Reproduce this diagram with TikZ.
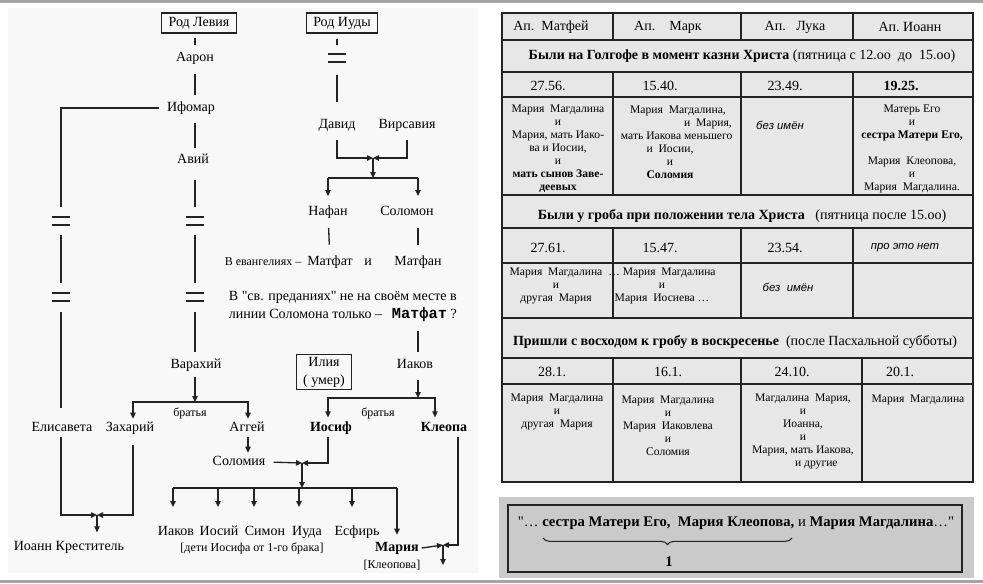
\documentclass[tikz,border=0pt]{standalone}
\usepackage{fontspec}
\setmainfont{Liberation Serif}[Ligatures=TeXOff]
\newfontfamily\sansfam{Liberation Sans}
\newfontfamily\monofam{Liberation Mono}
\usetikzlibrary{arrows.meta, positioning, decorations.pathreplacing, calc}
\definecolor{fonpanel}{RGB}{248,248,248}
\definecolor{fontab}{RGB}{231,231,231}
\definecolor{fonbox}{RGB}{202,202,202}
\definecolor{polosa}{RGB}{165,165,165}
\definecolor{linia}{RGB}{35,35,35}

\tikzset{
  persona/.style={inner sep=2pt, text height=7.3pt, text depth=2.2pt, font=\fontsize{10.5}{12}\selectfont},
  rod/.style={inner sep=2pt, font=\fontsize{10.5}{12}\selectfont, draw=linia, line width=0.8pt, inner xsep=5pt, minimum height=15pt},
  svyaz/.style={line width=1pt, linia},
  strelka/.style={svyaz, -{Triangle[length=4.5pt,width=4pt]}},
  tabl/.style={linia, line width=1.1pt},
  yach/.style={inner sep=0pt, align=center, font=\fontsize{8.7}{9.75}\selectfont},
  zag/.style={inner sep=0pt, font=\fontsize{10.5}{12}\selectfont},
  kursiv/.style={inner sep=0pt, font=\sansfam\itshape\fontsize{8.5}{10}\selectfont},
}
% знак разрыва линии рода
\newcommand{\razryv}[1]{\draw[svyaz] ([shift={(-9,-4)}]#1) -- ++(18,0) ([shift={(-9,4)}]#1) -- ++(18,0);}

\begin{document}
\begin{tikzpicture}[x=0.75pt, y=-0.75pt]
\useasboundingbox (0,0) rectangle (983,583);
\fill[polosa] (0,0) rectangle (983,3);
\fill[polosa] (0,580) rectangle (983,583);
\fill[fonpanel] (8,8) rectangle (478,573);

%% родословие
\node[rod] (levi) at (199,23) {Род Левия};
\node[rod] (iuda) at (342,23) {Род Иуды};
\node[persona] (aaron) at (195,58) {Аарон};
\node[persona] (ifomar) at (191,108) {Ифомар};
\node[persona] (aviy) at (193,160) {Авий};
\node[persona] (varahiy) at (196,365) {Варахий};
\node[persona] (david) at (337,125) {Давид};
\node[persona] (virsaviya) at (407,125) {Вирсавия};
\node[persona] (nafan) at (328,212) {Нафан};
\node[persona] (solomon) at (407,212) {Соломон};
\node[persona] (matfat) at (330,262) {Матфат};
\node[persona, font=\fontsize{9}{10}\selectfont, left=0pt of matfat] (evang) {В евангелиях –};
\node[persona] (soyuz) at (368,262) {и};
\node[persona] (matfan) at (418,262) {Матфан};
\node[persona, anchor=west] (prim1) at (226,297) {В "св. преданиях" не на своём месте в};
\node[persona, anchor=west] (prim2) at (226,315) {линии Соломона только –\hspace{0.7em}{\monofam\bfseries\fontsize{11.5}{12}\selectfont Матфат} ?};
\node[rod, align=center, font=\fontsize{10.5}{13.5}\selectfont] (iliya) at (324,372) {Илия\\( умер)};
\node[persona] (iakov) at (415,365) {Иаков};
\node[persona] (elisaveta) at (62,428) {Елисавета};
\node[persona] (zahariy) at (130,428) {Захарий};
\node[persona] (aggey) at (247,428) {Аггей};
\node[persona, font=\bfseries\fontsize{10.5}{12}\selectfont] (iosif) at (331,428) {Иосиф};
\node[persona, font=\bfseries\fontsize{10.5}{12}\selectfont] (kleopa) at (444,428) {Клеопа};
\node[persona, font=\fontsize{9}{10}\selectfont] (bratya1) at (190,413) {братья};
\node[persona, font=\fontsize{9}{10}\selectfont] (bratya2) at (378,413) {братья};
\node[persona] (solomiya) at (239,462) {Соломия};
\node[persona] (ioann) at (69,547) {Иоанн Креститель};
\node[persona] (iakovs) at (176,532) {Иаков};
\node[persona] (iosiy) at (219,532) {Иосий};
\node[persona] (simon) at (265,532) {Симон};
\node[persona] (iudas) at (307,532) {Иуда};
\node[persona] (esfir) at (357,532) {Есфирь};
\node[persona, font=\fontsize{9}{10}\selectfont] (deti) at (252,548) {[дети Иосифа от 1-го брака]};
\node[persona, font=\bfseries\fontsize{10.5}{12}\selectfont] (mariya) at (397,548) {Мария};
\node[persona, font=\fontsize{9}{10}\selectfont] (kleopova) at (392,565) {[Клеопова]};

\coordinate (ib) at (337,58);
\coordinate (lb1) at (61,221);
\coordinate (lb2) at (61,297);
\coordinate (mb1) at (195,221);
\coordinate (mb2) at (195,297);
\coordinate (sv1) at (373,158);
\coordinate (vil1) at (373,178);
\coordinate (vil3) at (418,398);
\coordinate (vil2) at (195,402);
\coordinate (sv3) at (97,515);
\coordinate (sv4) at (302,463);
\coordinate (vil4) at (302,488);
\coordinate (sv5) at (443,545);

% род Левия
\draw[svyaz, shorten <=3pt, shorten >=3pt] (levi.south -| aaron) -- (aaron);
\draw[svyaz, shorten <=5pt, shorten >=3pt] (aaron) -- (ifomar.north -| aaron);
\draw[svyaz, shorten <=4pt, shorten >=2pt] (ifomar.south -| aaron) -- (aviy.north -| aaron);
\draw[svyaz, shorten <=8pt] (aviy.south -| mb1) -- ([shift={(0,-14)}]mb1);
\draw[svyaz] ([shift={(0,14)}]mb1) -- ([shift={(0,-14)}]mb2);
\draw[svyaz, shorten >=3pt] ([shift={(0,15)}]mb2) -- (varahiy.north -| mb2);
\razryv{mb1} \razryv{mb2}
\draw[svyaz, shorten <=4pt] (ifomar.west) -| ([shift={(0,-14)}]lb1);
\draw[svyaz] ([shift={(0,14)}]lb1) -- ([shift={(0,-14)}]lb2);
\draw[svyaz, shorten >=8pt] ([shift={(0,15)}]lb2) -- (elisaveta.north -| lb2);
\razryv{lb1} \razryv{lb2}

% род Иуды
\draw[svyaz] (iuda.south -| ib) ++(0,5) -- ([shift={(0,-13)}]ib);
\draw[svyaz, shorten >=10pt] ([shift={(0,17)}]ib) -- (david.north);
\razryv{ib}
\draw[strelka, shorten <=4pt] (david.south) |- (sv1);
\draw[strelka, shorten <=4pt] (virsaviya.south) |- (sv1);
\draw[strelka] (sv1) -- (vil1);
\draw[svyaz] (vil1 -| nafan) -- (vil1 -| matfan);
\draw[strelka, shorten >=5pt] (vil1 -| nafan) -- (nafan.north);
\draw[strelka, shorten >=5pt] (vil1 -| matfan) -- (solomon.north -| matfan);
\draw[svyaz, shorten <=5pt, shorten >=6pt] (nafan) -- (matfat);
\draw[svyaz, shorten <=5pt, shorten >=6pt] (solomon.south -| matfan) -- (matfan);
\draw[svyaz, shorten <=5pt, shorten >=3pt] (prim2.south -| matfan) -- (iakov.north -| matfan);
\draw[strelka, shorten <=4pt] (iakov.south -| vil3) -- (vil3);
\draw[strelka, shorten >=1pt] (vil3) -| ([shift={(-3,0)}]iosif.north);
\draw[strelka, shorten >=1pt] (vil3) -| ([shift={(-9,0)}]kleopa.north);

% братья Захарий и Аггей
\draw[strelka, shorten <=2pt] (varahiy.south -| vil2) -- (vil2);
\draw[strelka] (vil2) -| ([shift={(3,0)}]zahariy.north);
\draw[strelka] (vil2) -| ([shift={(1,0)}]aggey.north);
\draw[strelka] ([shift={(-1,0)}]elisaveta.south) |- (sv3);
\draw[strelka, shorten <=6pt] ([shift={(3,0)}]zahariy.south) |- (sv3);
\draw[strelka, shorten >=4pt] (sv3) -- (sv3 |- ioann.north);
\draw[strelka] ([shift={(1,0)}]aggey.south) -- ([shift={(1,0)}]aggey.south |- solomiya.north);

% дети Иосифа
\draw[strelka, shorten <=4pt] (solomiya.east) -- (sv4);
\draw[strelka] ([shift={(-3,0)}]iosif.south) |- (sv4);
\draw[strelka] (sv4) -- (vil4);
\draw[svyaz] ($(vil4 -| iakovs)+(-3,0)$) -- (vil4 -| mariya);
\foreach \r/\sd in {iakovs/-3, iosiy/-1, simon/-11, iudas/-8, esfir/-5}
  \draw[strelka] ($(vil4 -| \r)+(\sd,0)$) -- ++(0,19);
\draw[strelka, shorten >=3pt] (vil4 -| mariya) -- (mariya.north);
\draw[strelka] ([shift={(14,0)}]kleopa.south) |- (sv5);
\draw[strelka] (mariya.east) -- (sv5);
\draw[strelka] (sv5) -- ++(0,20);

%% таблица
\draw[tabl, fill=fontab] (502,13) rectangle (973,482);
\foreach \y in {40,72,97,195,228,263,318,358,384}
  \draw[tabl] (502,\y) -- (973,\y);
\foreach \x in {613,741,853} {
  \draw[tabl] (\x,13) -- (\x,40);
  \draw[tabl] (\x,72) -- (\x,195);
  \draw[tabl] (\x,228) -- (\x,318);
}
\foreach \x in {613,741,862}
  \draw[tabl] (\x,358) -- (\x,482);

\foreach \x/\t in {551/Ап.\ \ Матфей, 668/Ап.\ \ \ \ Марк, 795/Ап.\ \ \ Лука, 910/Ап.\ Иоанн}
  \node[zag] at (\x,27) {\t};
\node[zag] (golgofa) at (742,56) {\textbf{Были на Голгофе в момент казни Христа} (пятница с 12.оо\ \ до\ \ 15.оо)};
\node[zag] (grob) at (742,216) {\textbf{Были у гроба при положении тела Христа}\ \ \ (пятница после 15.оо)};
\node[zag] (voskr) at (735,342) {\textbf{Пришли с восходом к гробу в воскресенье}\ \ (после Пасхальной субботы)};

\foreach \x/\t in {548/27.56., 660/15.40., 785/23.49., 901/\textbf{19.25.}}
  \node[zag] at (\x,86) {\t};
\foreach \x/\t in {548/27.61., 660/15.47., 785/23.54.}
  \node[zag] at (\x,248) {\t};
\node[kursiv] at (905,248) {про это нет};
\foreach \x/\t in {552/28.1., 668/16.1., 792/24.10., 900/20.1.}
  \node[zag] at (\x,372) {\t};

\node[yach] at (558,149) {Мария\ \ Магдалина\\и\\Мария, мать Иако-\\ва и Иосии,\\и\\\textbf{мать сынов Заве-}\\\textbf{деевых}};
\node[yach] at (670,142) {\hspace*{12pt}Мария\ \ Магдалина,\\\hspace*{57pt}и\ \ Мария,\\\hspace*{10pt}мать Иакова меньшего\\и\ \ Иосии,\\и\\\textbf{Соломия}};
\node[kursiv] at (780,125) {без имён};
\node[yach] at (912,149) {Матерь Его\\и\\\textbf{сестра Матери Его,}\\[9.75pt]Мария\ \ Клеопова,\\и\\Мария\ \ Магдалина.};

\node[yach] at (556,286) {Мария\ \ Магдалина\\и\\другая\ \ Мария};
\node[yach] at (662,286) {…\ Мария\ \ Магдалина\\и\\Мария\ \ Иосиева\ …};
\node[kursiv] at (788,287) {без\ \ имён};

\node[yach] at (557,412) {Мария\ \ Магдалина\\и\\другая\ \ Мария};
\node[yach] at (668,426) {Мария\ \ Магдалина\\и\\Мария\ \ Иаковлева\\и\\Соломия};
\node[yach] at (803,431) {Магдалина\ \ Мария,\\и\\Иоанна,\\и\\Мария, мать Иакова,\\\hspace*{20pt}и другие};
\node[yach] at (918,400) {Мария\ \ Магдалина};

%% цитата
\fill[fonbox] (499,497) rectangle (974,578);
\draw[linia, line width=1pt] (508,505) rectangle (962,572);
\node[inner sep=0pt, font=\fontsize{11}{12}\selectfont] (citata) at (736,523) {"…\ \textbf{сестра Матери Его,\ \ Мария Клеопова,}\ и \textbf{Мария Магдалина}…"};
\draw[linia, line width=0.8pt, decorate, decoration={brace, mirror, amplitude=5pt}] (543,538) -- (792,538);
\node[inner sep=0pt, font=\bfseries\fontsize{11}{12}\selectfont] (odna) at (669,562) {1};
\end{tikzpicture}
\end{document}
